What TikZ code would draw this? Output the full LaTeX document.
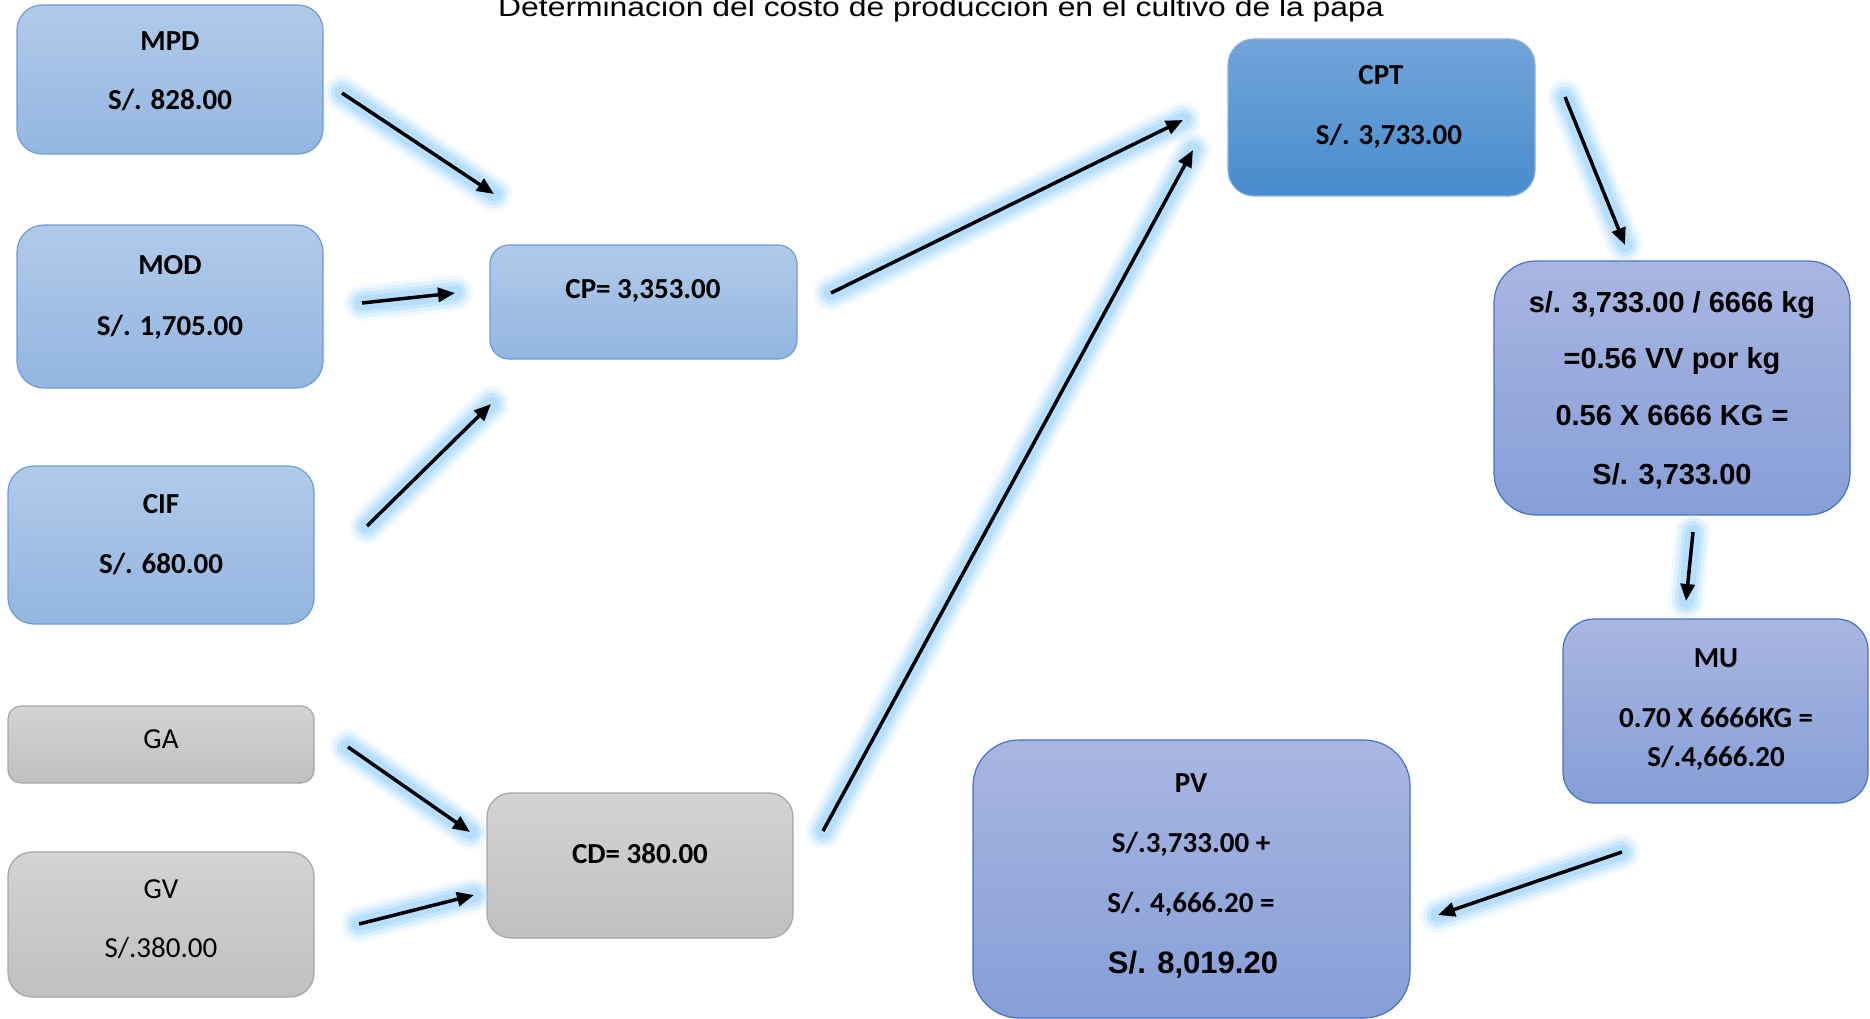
\documentclass[tikz,border=0pt]{standalone}
\usepackage{fontspec}
\setmainfont{Carlito}
\newfontfamily\arialf{Liberation Sans}
\usetikzlibrary{arrows.meta}
\definecolor{blueTop}{RGB}{177,202,233}
\definecolor{blueBot}{RGB}{147,182,225}
\definecolor{blueLine}{RGB}{108,157,214}
\definecolor{cptTop}{RGB}{114,165,218}
\definecolor{cptBot}{RGB}{72,140,205}
\definecolor{cptLine}{RGB}{134,176,222}
\definecolor{perTop}{RGB}{169,182,225}
\definecolor{perBot}{RGB}{134,158,215}
\definecolor{perLine}{RGB}{68,114,196}
\definecolor{grayTop}{RGB}{211,211,211}
\definecolor{grayBot}{RGB}{192,192,192}
\definecolor{grayLine}{RGB}{166,166,166}
\definecolor{glowC}{RGB}{150,208,255}
\newcommand\glowarr[2]{%
  \draw[glowC, line width=36pt, line cap=round, opacity=.12] (#1) -- (#2);
  \draw[glowC, line width=29pt, line cap=round, opacity=.2] (#1) -- (#2);
  \draw[glowC, line width=22pt, line cap=round, opacity=.3] (#1) -- (#2);
  \draw[glowC, line width=15pt, line cap=round, opacity=.4] (#1) -- (#2);
  \draw[arr] (#1) -- (#2);}
\begin{document}
\begin{tikzpicture}[x=1pt,y=-1pt,
  box/.style={rectangle, inner sep=0pt, line width=1.2pt},
  bluebox/.style={box, top color=blueTop, bottom color=blueBot, draw=blueLine},
  cptbox/.style={box, top color=cptTop, bottom color=cptBot, draw=cptLine},
  perbox/.style={box, top color=perTop, bottom color=perBot, draw=perLine},
  graybox/.style={box, top color=grayTop, bottom color=grayBot, draw=grayLine},
  txt/.style={inner sep=0pt, anchor=base, font=\fontsize{29}{34}\selectfont\bfseries},
  rtxt/.style={inner sep=0pt, anchor=base, font=\fontsize{29}{34}\selectfont},
  atxt/.style={inner sep=0pt, anchor=base, font=\arialf\fontsize{29}{34}\selectfont\bfseries},
  arr/.style={black, line width=3.5pt, -{Triangle[length=17pt,width=14pt]}}
]
\useasboundingbox (0,0) rectangle (1870,1019);

% title
\node[inner sep=0pt, anchor=base] (title) at (941,17)
  {\scalebox{1.18}[1]{\arialf\fontsize{27}{30}\selectfont Determinación del costo de producción en el cultivo de la papa}};

% boxes
\node[bluebox, minimum width=306pt, minimum height=149pt, rounded corners=25pt] (mpd) at (170,79.5) {};
\node[bluebox, minimum width=306pt, minimum height=163pt, rounded corners=27pt] (mod) at (170,306.5) {};
\node[bluebox, minimum width=306pt, minimum height=158pt, rounded corners=26pt] (cif) at (161,545) {};
\node[graybox, minimum width=306pt, minimum height=77pt, rounded corners=13pt] (ga) at (161,744.5) {};
\node[graybox, minimum width=306pt, minimum height=145pt, rounded corners=24pt] (gv) at (161,924.5) {};
\node[bluebox, minimum width=307pt, minimum height=114pt, rounded corners=19pt] (cp) at (643.5,302) {};
\node[graybox, minimum width=306pt, minimum height=145pt, rounded corners=24pt] (cd) at (640,865.5) {};
\node[cptbox, minimum width=307pt, minimum height=157pt, rounded corners=26pt] (cpt) at (1381.5,117.5) {};
\node[perbox, minimum width=356pt, minimum height=254pt, rounded corners=42pt] (calc) at (1672,388) {};
\node[perbox, minimum width=305pt, minimum height=184pt, rounded corners=31pt] (mu) at (1715.5,711) {};
\node[perbox, minimum width=437pt, minimum height=278pt, rounded corners=46pt] (pv) at (1191.5,879) {};

% texts
\node[txt] (mpd1) at (170,51) {MPD};
\node[txt] (mpd2) at (170,110) {S/. 828.00};
\node[txt] (mod1) at (170,274) {MOD};
\node[txt] (mod2) at (170,335) {S/. 1,705.00};
\node[txt] (cif1) at (161,513) {CIF};
\node[txt] (cif2) at (161,573) {S/. 680.00};
\node[rtxt] (ga1) at (161,748) {GA};
\node[rtxt] (gv1) at (161,898) {GV};
\node[rtxt] (gv2) at (161,957) {S/.380.00};
\node[txt] (cp1) at (643,298) {CP= 3,353.00};
\node[txt] (cd1) at (640,863) {CD= 380.00};
\node[txt] (cpt1) at (1381,85) {CPT};
\node[txt] (cpt2) at (1389,145) {S/. 3,733.00};
\node[atxt] (calc1) at (1672,312) {s/. 3,733.00 / 6666 kg};
\node[atxt] (calc2) at (1672,368.5) {=0.56 VV por kg};
\node[atxt] (calc3) at (1672,425) {0.56 X 6666 KG =};
\node[atxt] (calc4) at (1672,484) {S/. 3,733.00};
\node[txt] (mu1) at (1716,667) {MU};
\node[txt] (mu2) at (1716,727) {0.70 X 6666KG =};
\node[txt] (mu3) at (1716,766) {S/.4,666.20};
\node[txt] (pv1) at (1191,792) {PV};
\node[txt] (pv2) at (1191,852) {S/.3,733.00 +};
\node[txt] (pv3) at (1191,912) {S/. 4,666.20 =};
\node[inner sep=0pt, anchor=base, font=\arialf\fontsize{31}{36}\selectfont\bfseries] (pv4) at (1193,973) {S/. 8,019.20};

% arrow end points
\coordinate (a1s) at (342,93);   \coordinate (a1e) at (494,194);
\coordinate (a2s) at (362,303);  \coordinate (a2e) at (455,293);
\coordinate (a3s) at (367,526);  \coordinate (a3e) at (491,404);
\coordinate (a4s) at (348,747);  \coordinate (a4e) at (470,832);
\coordinate (a5s) at (359,924);  \coordinate (a5e) at (474,895);
\coordinate (a6s) at (831,293);  \coordinate (a6e) at (1183,120);
\coordinate (a7s) at (823,831);  \coordinate (a7e) at (1193,150);
\coordinate (a8s) at (1565,97);  \coordinate (a8e) at (1625,245);
\coordinate (a9s) at (1693,532); \coordinate (a9e) at (1686,601);
\coordinate (a10s) at (1622,852); \coordinate (a10e) at (1438,915);

\glowarr{a1s}{a1e}
\glowarr{a2s}{a2e}
\glowarr{a3s}{a3e}
\glowarr{a4s}{a4e}
\glowarr{a5s}{a5e}
\glowarr{a6s}{a6e}
\glowarr{a7s}{a7e}
\glowarr{a8s}{a8e}
\glowarr{a9s}{a9e}
\glowarr{a10s}{a10e}
\end{tikzpicture}
\end{document}
